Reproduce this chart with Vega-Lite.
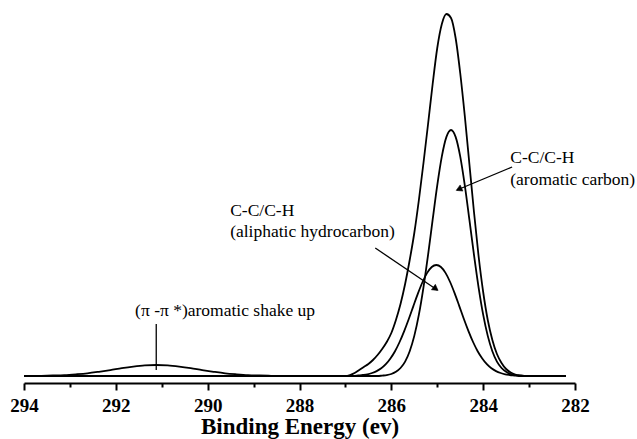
{
  "$schema": "https://vega.github.io/schema/vega-lite/v6.json",
  "width": 551,
  "height": 383,
  "autosize": "none",
  "padding": {"left": 24, "top": 0, "right": 62, "bottom": 56},
  "background": "white",
  "config": {"view": {"stroke": null}},
  "datasets": {
    "curves": [
      {"s":"total","E":294,"I":0},{"s":"total","E":293.62,"I":0.2},{"s":"total","E":293.37,"I":0.5},{"s":"total","E":293.12,"I":0.9},{"s":"total","E":292.87,"I":1.7},{"s":"total","E":292.62,"I":2.7},{"s":"total","E":292.37,"I":4.2},{"s":"total","E":292.12,"I":5.9},{"s":"total","E":291.87,"I":7.8},{"s":"total","E":291.62,"I":9.4},{"s":"total","E":291.37,"I":10.6},{"s":"total","E":291.12,"I":11},{"s":"total","E":290.87,"I":10.6},{"s":"total","E":290.62,"I":9.4},{"s":"total","E":290.37,"I":7.8},{"s":"total","E":290.12,"I":5.9},{"s":"total","E":289.87,"I":4.2},{"s":"total","E":289.62,"I":2.7},{"s":"total","E":289.37,"I":1.7},{"s":"total","E":289.12,"I":0.9},{"s":"total","E":288.87,"I":0.5},{"s":"total","E":288.62,"I":0.2},{"s":"total","E":288.3,"I":0},{"s":"total","E":287.0,"I":0},{"s":"total","E":286.9,"I":1},{"s":"total","E":286.8,"I":3},{"s":"total","E":286.7,"I":6},{"s":"total","E":286.6,"I":9},{"s":"total","E":286.5,"I":12},{"s":"total","E":286.4,"I":16},{"s":"total","E":286.3,"I":21},{"s":"total","E":286.2,"I":27},{"s":"total","E":286.1,"I":34},{"s":"total","E":286.0,"I":43},{"s":"total","E":285.9,"I":56},{"s":"total","E":285.8,"I":72},{"s":"total","E":285.7,"I":92},{"s":"total","E":285.6,"I":116},{"s":"total","E":285.5,"I":143},{"s":"total","E":285.4,"I":176},{"s":"total","E":285.3,"I":213},{"s":"total","E":285.2,"I":252},{"s":"total","E":285.1,"I":292},{"s":"total","E":285.0,"I":328},{"s":"total","E":284.9,"I":352},{"s":"total","E":284.8,"I":362},{"s":"total","E":284.7,"I":358},{"s":"total","E":284.6,"I":338},{"s":"total","E":284.5,"I":303},{"s":"total","E":284.4,"I":260},{"s":"total","E":284.3,"I":212},{"s":"total","E":284.2,"I":164},{"s":"total","E":284.1,"I":120},{"s":"total","E":284.0,"I":84},{"s":"total","E":283.9,"I":56},{"s":"total","E":283.8,"I":36},{"s":"total","E":283.7,"I":22},{"s":"total","E":283.6,"I":13},{"s":"total","E":283.5,"I":7},{"s":"total","E":283.4,"I":3.5},{"s":"total","E":283.3,"I":1.5},{"s":"total","E":283.2,"I":0.5},{"s":"total","E":283.1,"I":0},{"s":"total","E":282.2,"I":0},
      {"s":"arom","E":294,"I":0},{"s":"arom","E":286.3,"I":0},{"s":"arom","E":286.2,"I":0.4},{"s":"arom","E":286.1,"I":0.9},{"s":"arom","E":286.0,"I":2.0},{"s":"arom","E":285.9,"I":4.2},{"s":"arom","E":285.8,"I":8.0},{"s":"arom","E":285.7,"I":14.4},{"s":"arom","E":285.6,"I":24.8},{"s":"arom","E":285.5,"I":40.1},{"s":"arom","E":285.4,"I":61.3},{"s":"arom","E":285.3,"I":88.7},{"s":"arom","E":285.2,"I":121.1},{"s":"arom","E":285.1,"I":156.3},{"s":"arom","E":285.0,"I":190.6},{"s":"arom","E":284.9,"I":219.6},{"s":"arom","E":284.8,"I":239.1},{"s":"arom","E":284.7,"I":246},{"s":"arom","E":284.6,"I":239.1},{"s":"arom","E":284.5,"I":219.6},{"s":"arom","E":284.4,"I":190.6},{"s":"arom","E":284.3,"I":156.3},{"s":"arom","E":284.2,"I":121.1},{"s":"arom","E":284.1,"I":88.7},{"s":"arom","E":284.0,"I":61.3},{"s":"arom","E":283.9,"I":40.1},{"s":"arom","E":283.8,"I":24.8},{"s":"arom","E":283.7,"I":14.4},{"s":"arom","E":283.6,"I":8.0},{"s":"arom","E":283.5,"I":4.2},{"s":"arom","E":283.4,"I":2.0},{"s":"arom","E":283.3,"I":0.9},{"s":"arom","E":283.2,"I":0.4},{"s":"arom","E":283.1,"I":0},{"s":"arom","E":282.2,"I":0},
      {"s":"aliph","E":294,"I":0},{"s":"aliph","E":286.82,"I":0},{"s":"aliph","E":286.72,"I":0.5},{"s":"aliph","E":286.62,"I":1.0},{"s":"aliph","E":286.52,"I":1.7},{"s":"aliph","E":286.42,"I":3.0},{"s":"aliph","E":286.32,"I":4.9},{"s":"aliph","E":286.22,"I":7.7},{"s":"aliph","E":286.12,"I":11.8},{"s":"aliph","E":286.02,"I":17.5},{"s":"aliph","E":285.92,"I":24.8},{"s":"aliph","E":285.82,"I":34.0},{"s":"aliph","E":285.72,"I":44.9},{"s":"aliph","E":285.62,"I":57.0},{"s":"aliph","E":285.52,"I":69.9},{"s":"aliph","E":285.42,"I":82.6},{"s":"aliph","E":285.32,"I":94.0},{"s":"aliph","E":285.22,"I":103.1},{"s":"aliph","E":285.12,"I":109.0},{"s":"aliph","E":285.02,"I":111},{"s":"aliph","E":284.92,"I":109.0},{"s":"aliph","E":284.82,"I":103.1},{"s":"aliph","E":284.72,"I":94.0},{"s":"aliph","E":284.62,"I":82.6},{"s":"aliph","E":284.52,"I":69.9},{"s":"aliph","E":284.42,"I":57.0},{"s":"aliph","E":284.32,"I":44.9},{"s":"aliph","E":284.22,"I":34.0},{"s":"aliph","E":284.12,"I":24.8},{"s":"aliph","E":284.02,"I":17.5},{"s":"aliph","E":283.92,"I":11.8},{"s":"aliph","E":283.82,"I":7.7},{"s":"aliph","E":283.72,"I":4.9},{"s":"aliph","E":283.62,"I":3.0},{"s":"aliph","E":283.52,"I":1.7},{"s":"aliph","E":283.42,"I":1.0},{"s":"aliph","E":283.32,"I":0.5},{"s":"aliph","E":283.22,"I":0},{"s":"aliph","E":282.2,"I":0}
    ],
    "labels": [
      {"E":283.41,"I":213,"t":"C-C/C-H"},
      {"E":283.41,"I":191,"t":"(aromatic carbon)"},
      {"E":289.51,"I":160,"t":"C-C/C-H"},
      {"E":289.51,"I":139,"t":"(aliphatic hydrocarbon)"},
      {"E":291.58,"I":60,"t":"(π -π *)aromatic shake up"}
    ],
    "arrows": [
      {"E":283.37,"I":209,"E2":284.57,"I2":186},
      {"E":286.35,"I":128,"E2":285.00,"I2":86},
      {"E":291.12,"I":52,"E2":291.12,"I2":6}
    ]
  },
  "layer": [
    {
      "data": {"name": "curves"},
      "mark": {"type": "line", "interpolate": "monotone", "color": "#000", "strokeWidth": 1.8},
      "encoding": {
        "x": {
          "field": "E", "type": "quantitative",
          "scale": {"domain": [282, 294], "reverse": true, "nice": false, "zero": false},
          "axis": {
            "values": [294,293,292,291,290,289,288,287,286,285,284,283,282],
            "labelExpr": "datum.value % 2 === 0 ? datum.label : ''",
            "format": "d",
            "tickSize": {"condition": {"test": "datum.value % 2 !== 0", "value": 4}, "value": 7},
            "grid": false,
            "domainColor": "#000", "domainWidth": 2,
            "tickColor": "#000", "tickWidth": 2,
            "labelFont": "Liberation Serif", "labelFontSize": 19, "labelFontWeight": "bold", "labelColor": "#000",
            "labelPadding": 6, "labelOverlap": false, "labelFlush": false,
            "title": "Binding Energy (ev)",
            "titleFont": "Liberation Serif", "titleFontSize": 23, "titleFontWeight": "bold", "titleColor": "#000",
            "titleBaseline": "alphabetic", "titleY": 50
          }
        },
        "y": {
          "field": "I", "type": "quantitative",
          "scale": {"domain": [-7, 376], "nice": false, "zero": false},
          "axis": null
        },
        "detail": {"field": "s"}
      }
    },
    {
      "data": {"name": "arrows"},
      "mark": {"type": "rule", "color": "#000", "strokeWidth": 1.3},
      "encoding": {
        "x": {"field": "E", "type": "quantitative"},
        "y": {"field": "I", "type": "quantitative"},
        "x2": {"field": "E2"},
        "y2": {"field": "I2"}
      }
    },
    {
      "data": {"values": [{"E": 284.51, "I": 187.2}]},
      "mark": {"type": "point", "shape": "triangle", "angle": 246, "filled": true, "fill": "#000", "stroke": "#000", "strokeWidth": 0.5, "size": 45, "opacity": 1},
      "encoding": {
        "x": {"field": "E", "type": "quantitative"},
        "y": {"field": "I", "type": "quantitative"}
      }
    },
    {
      "data": {"values": [{"E": 285.05, "I": 87.8}]},
      "mark": {"type": "point", "shape": "triangle", "angle": 126, "filled": true, "fill": "#000", "stroke": "#000", "strokeWidth": 0.5, "size": 45, "opacity": 1},
      "encoding": {
        "x": {"field": "E", "type": "quantitative"},
        "y": {"field": "I", "type": "quantitative"}
      }
    },
    {
      "data": {"name": "labels"},
      "mark": {"type": "text", "align": "left", "baseline": "alphabetic", "font": "Liberation Serif", "fontSize": 17.5, "color": "#000"},
      "encoding": {
        "x": {"field": "E", "type": "quantitative"},
        "y": {"field": "I", "type": "quantitative"},
        "text": {"field": "t"}
      }
    }
  ]
}
